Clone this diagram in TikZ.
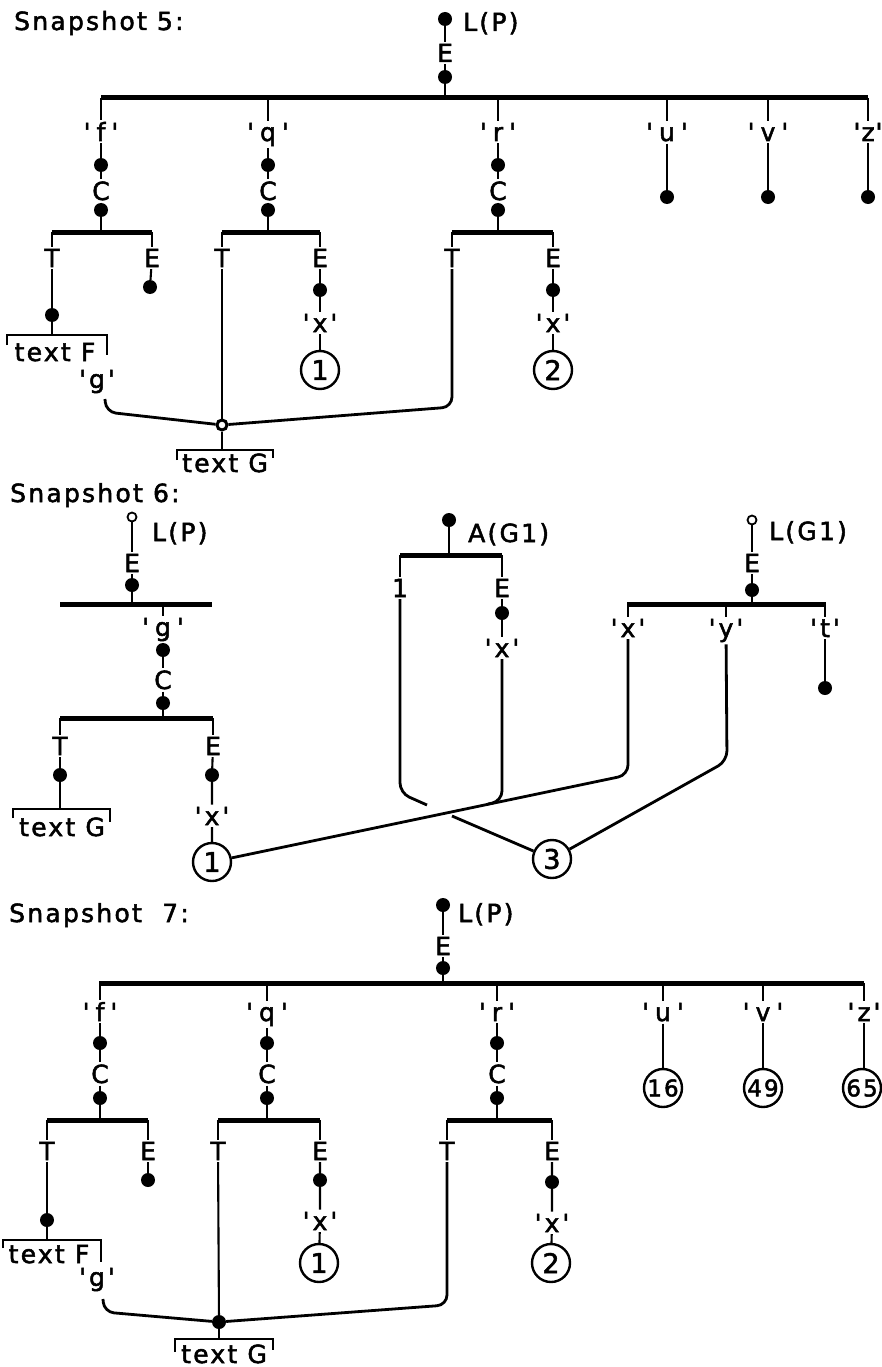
\documentclass[tikz,border=0pt]{standalone}
\usepackage{fontspec}
\setmainfont{DejaVu Sans}[LetterSpace=9, FakeBold=2]
\newcommand\qlab[2][6pt]{\textquotesingle\kern#1#2\kern#1\textquotesingle}
\tikzset{
  ln/.style={line width=2.1pt},
  barln/.style={line width=5pt},
  lk/.style={line width=2.8pt, rounded corners=10pt},
  bk/.style={line width=2.4pt},
  dt/.style={circle, fill=black, inner sep=0pt, minimum size=14pt},
  ho/.style={circle, draw, line width=1.8pt, fill=white, inner sep=0pt, minimum size=9pt},
  jr/.style={circle, draw, line width=3pt, fill=white, inner sep=0pt, minimum size=10pt},
  lb/.style={inner sep=2pt, anchor=base},
  cn/.style={circle, draw, line width=2.4pt, inner sep=0pt, minimum size=38pt, font=\fontsize{27}{28}\selectfont},
  cnb/.style={cn, font=\fontsize{23}{24}\selectfont},
}
\begin{document}
\begin{tikzpicture}[x=1pt,y=-1pt, every node/.style={font=\fontsize{25}{28}\selectfont}]
\useasboundingbox (0,0) rectangle (882,1367);

% ================= Snapshot 5 =================
\node[lb, anchor=base west] (t5) at (12,30) {Snapshot 5:};
\node[dt] (r5) at (445,19) {};
\node[lb, anchor=base west] (lp5) at (461,31) {L(P)};
\node[lb] (e5) at (445,62) {E};
\node[dt] (d5) at (445,77) {};
\coordinate (b5) at (445,98);
\coordinate (b5L) at (101,98);
\coordinate (b5R) at (868,98);
\draw[barln] (b5L) -- (b5R);
\draw[ln] (r5) -- (e5) -- (d5) -- (b5);
\foreach \n/\x/\k in {f/101/6pt,q/268/6pt,r/498/6pt,u/667/6pt,v/768/6pt,z/868/1pt}{
  \coordinate (b5\n) at (\x,98);
  \node[lb] (l5\n) at (\x,141) {\qlab[\k]{\n}};
  \draw[ln] (b5\n) -- (l5\n);
}
\foreach \n/\x/\a/\b in {f/101/52/152,q/268/222/320,r/498/452/553}{
  \node[dt] (ca5\n) at (\x,165) {};
  \node[lb] (C5\n) at (\x,200) {C};
  \node[dt] (cb5\n) at (\x,210) {};
  \coordinate (s5\n) at (\x,232);
  \coordinate (sl5\n) at (\a,232);
  \coordinate (sr5\n) at (\b,232);
  \draw[barln] (sl5\n) -- (sr5\n);
  \node[lb] (T5\n) at (\a,267) {T};
  \node[lb] (E5\n) at (\b,267) {E};
  \draw[ln] (l5\n) -- (ca5\n) -- (C5\n) -- (cb5\n) -- (s5\n);
  \draw[ln] (sl5\n) -- (T5\n);
  \draw[ln] (sr5\n) -- (E5\n);
}
% f branch
\node[dt] (tf5) at (52,315) {};
\coordinate (bf5) at (52,335);
\draw[ln] (T5f) -- (tf5) -- (bf5);
\draw[bk] (7,345) -- (7,335) -- (107,335) -- (107,355);
\node[lb] (tF5) at (55,361) {text F};
\node[dt] (ef5) at (150,287) {};
\draw[ln] (E5f) -- (ef5);
\node[lb] (g5) at (97,388) {\qlab[3pt]{g}};
\node[jr] (J5) at (222,425) {};
\coordinate (gs5) at (105,399);
\draw[lk] (gs5) -- (106,412) -- (J5);
\draw[ln] (T5q) -- (J5);
\draw[lk] (T5r) -- (452,407) -- (J5);
\coordinate (tg5) at (222,450);
\draw[ln] (J5) -- (tg5);
\draw[bk] (177,460) -- (177,450) -- (273,450) -- (273,458);
\node[lb] (tG5) at (225,472) {text G};
% q E
\node[dt] (eq5) at (320,290) {};
\node[lb] (xq5) at (320,332) {\qlab[3pt]{x}};
\node[cn] (c15) at (320,370) {1};
\draw[ln] (E5q) -- (eq5) -- (xq5) -- (c15);
% r E
\node[dt] (er5) at (553,290) {};
\node[lb] (xr5) at (553,332) {\qlab[3pt]{x}};
\node[cn] (c25) at (553,370) {2};
\draw[ln] (E5r) -- (er5) -- (xr5) -- (c25);
% u v z
\foreach \n/\x in {u/667,v/768,z/868}{
  \node[dt] (dd5\n) at (\x,197) {};
  \draw[ln] (l5\n) -- (dd5\n);
}

% ================= Snapshot 6 =================
\node[lb, anchor=base west] (t6) at (8,502) {Snapshot 6:};
\node[ho] (r6) at (132,517) {};
\node[lb, anchor=base west] (lp6) at (150,541) {L(P)};
\node[lb] (e6) at (132,572) {E};
\node[dt] (d6) at (132,585) {};
\coordinate (b6) at (132,604);
\coordinate (b6L) at (60,604);
\coordinate (b6R) at (212,604);
\draw[barln] (b6L) -- (b6R);
\draw[ln] (r6) -- (e6) -- (d6) -- (b6);
\coordinate (b6g) at (163,604);
\node[lb] (g6) at (163,636) {\qlab{g}};
\node[dt] (ga6) at (163,650) {};
\node[lb] (C6) at (163,689) {C};
\node[dt] (gb6) at (163,703) {};
\coordinate (s6) at (163,718);
\coordinate (sl6) at (60,718);
\coordinate (sr6) at (213,718);
\draw[barln] (sl6) -- (sr6);
\draw[ln] (b6g) -- (g6) -- (ga6) -- (C6) -- (gb6) -- (s6);
\node[lb] (T6) at (60,755) {T};
\node[lb] (E6) at (213,755) {E};
\draw[ln] (sl6) -- (T6);
\draw[ln] (sr6) -- (E6);
\node[dt] (td6) at (60,775) {};
\coordinate (tb6) at (60,809);
\draw[ln] (T6) -- (td6) -- (tb6);
\draw[bk] (13,818) -- (13,809) -- (110,809) -- (110,822);
\node[lb] (tG6) at (62,836) {text G};
\node[dt] (ed6) at (212,775) {};
\node[lb] (ex6) at (212,825) {\qlab[3pt]{x}};
\node[cn] (c16) at (212,862) {1};
\draw[ln] (E6) -- (ed6) -- (ex6) -- (c16);
% A(G1)
\node[dt] (a6) at (449,520) {};
\node[lb, anchor=base west] (ag6) at (466,542) {A(G1)};
\coordinate (ab6) at (449,555);
\coordinate (abL6) at (400,555);
\coordinate (abR6) at (502,555);
\draw[barln] (abL6) -- (abR6);
\draw[ln] (a6) -- (ab6);
\node[lb] (one6) at (400,597) {1};
\node[lb] (ae6) at (502,597) {E};
\draw[ln] (abL6) -- (one6);
\draw[ln] (abR6) -- (ae6);
\node[dt] (aed6) at (502,613) {};
\node[lb] (ax6) at (502,657) {\qlab[3pt]{x}};
\draw[ln] (ae6) -- (aed6) -- (ax6);
% L(G1)
\node[ho] (lg6) at (752,520) {};
\node[lb, anchor=base west] (lgt6) at (767,540) {L(G1)};
\node[lb] (lge6) at (752,572) {E};
\node[dt] (lgd6) at (752,590) {};
\coordinate (lb6) at (752,604);
\coordinate (lbL6) at (627,604);
\coordinate (lbR6) at (826,604);
\draw[barln] (lbL6) -- (lbR6);
\draw[ln] (lg6) -- (lge6) -- (lgd6) -- (lb6);
\coordinate (lbx6) at (628,604);
\coordinate (lby6) at (726,604);
\coordinate (lbt6) at (825,604);
\node[lb] (lx6) at (628,637) {\qlab[3pt]{x}};
\node[lb] (ly6) at (726,637) {\qlab[3pt]{y}};
\node[lb] (lt6) at (825,637) {\qlab[3pt]{t}};
\draw[ln] (lbx6) -- (lx6);
\draw[ln] (lby6) -- (ly6);
\draw[ln] (lbt6) -- (lt6);
\node[dt] (ltd6) at (825,688) {};
\draw[ln] (lt6) -- (ltd6);
\node[cn] (c36) at (552,859) {3};
% links
\draw[lk] (c16) -- (628,775) -- (lx6);
\draw[lk] (ax6) -- (502,801) -- (488,804);
\draw[lk] (one6) -- (400,793) -- (427,805);
\coordinate (k3) at (452,816);
\draw[lk] (k3) -- (c36);
\draw[lk] (ly6) -- (727,761) -- (c36);

% ================= Snapshot 7 =================
\node[lb, anchor=base west] (t7) at (7,922) {Snapshot\ \ 7:};
\node[dt] (r7) at (443,905) {};
\node[lb, anchor=base west] (lp7) at (456,922) {L(P)};
\node[lb] (e7) at (443,955) {E};
\node[dt] (d7) at (443,968) {};
\coordinate (b7) at (443,983);
\coordinate (b7L) at (99,983);
\coordinate (b7R) at (864,983);
\draw[barln] (b7L) -- (b7R);
\draw[ln] (r7) -- (e7) -- (d7) -- (b7);
\foreach \n/\x/\k in {f/100/6pt,q/267/6pt,r/497/6pt,u/663/6pt,v/763/6pt,z/864/3pt}{
  \coordinate (b7\n) at (\x,983);
  \node[lb] (l7\n) at (\x,1021) {\qlab[\k]{\n}};
  \draw[ln] (b7\n) -- (l7\n);
}
\foreach \n/\x/\a/\b in {f/100/47/148,q/267/218/320,r/497/447/552}{
  \node[dt] (ca7\n) at (\x,1043) {};
  \node[lb] (C7\n) at (\x,1083) {C};
  \node[dt] (cb7\n) at (\x,1098) {};
  \coordinate (s7\n) at (\x,1120);
  \coordinate (sl7\n) at (\a,1120);
  \coordinate (sr7\n) at (\b,1120);
  \draw[barln] (sl7\n) -- (sr7\n);
  \node[lb] (T7\n) at (\a,1160) {T};
  \node[lb] (E7\n) at (\b,1160) {E};
  \draw[ln] (l7\n) -- (ca7\n) -- (C7\n) -- (cb7\n) -- (s7\n);
  \draw[ln] (sl7\n) -- (T7\n);
  \draw[ln] (sr7\n) -- (E7\n);
}
\node[dt] (tf7) at (47,1220) {};
\coordinate (bf7) at (47,1240);
\draw[ln] (T7f) -- (tf7) -- (bf7);
\draw[bk] (3,1248) -- (3,1240) -- (101,1240) -- (101,1262);
\node[lb] (tF7) at (49,1263) {text F};
\node[dt] (ef7) at (148,1180) {};
\draw[ln] (E7f) -- (ef7);
\node[lb] (g7) at (97,1286) {\qlab[3pt]{g}};
\node[dt] (J7) at (219,1322) {};
\coordinate (gs7) at (103,1299);
\draw[lk] (gs7) -- (104,1312) -- (J7);
\draw[ln] (T7q) -- (J7);
\draw[lk] (T7r) -- (447,1305) -- (J7);
\coordinate (tg7) at (219,1339);
\draw[ln] (J7) -- (tg7);
\draw[bk] (175,1352) -- (175,1339) -- (273,1339) -- (273,1350);
\node[lb] (tG7) at (224,1363) {text G};
\node[dt] (eq7) at (320,1180) {};
\node[lb] (xq7) at (320,1230) {\qlab[3pt]{x}};
\node[cn] (c17) at (319,1263) {1};
\draw[ln] (E7q) -- (eq7) -- (xq7) -- (c17);
\node[dt] (er7) at (552,1182) {};
\node[lb] (xr7) at (552,1232) {\qlab[3pt]{x}};
\node[cn] (c27) at (551,1263) {2};
\draw[ln] (E7r) -- (er7) -- (xr7) -- (c27);
\node[cnb] (n16) at (663,1088) {16};
\node[cnb] (n49) at (763,1088) {49};
\node[cnb] (n65) at (862,1088) {65};
\draw[ln] (l7u) -- (n16);
\draw[ln] (l7v) -- (n49);
\coordinate (n65t) at (862,1069);
\draw[ln] (l7z) -- (l7z |- n65.north);
\end{tikzpicture}
\end{document}
